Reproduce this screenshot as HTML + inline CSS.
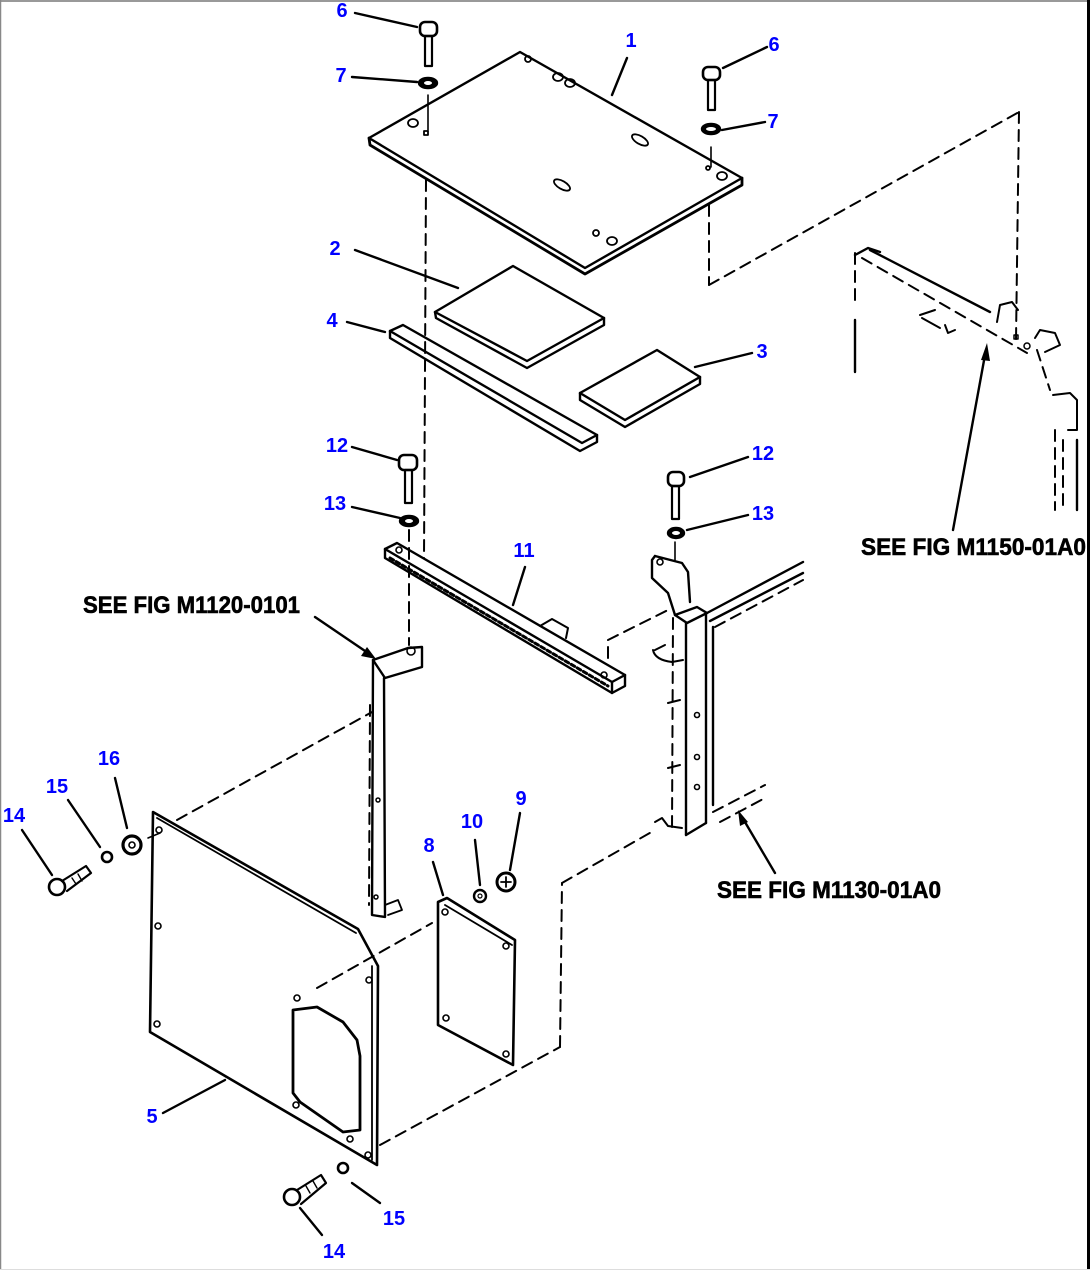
<!DOCTYPE html>
<html><head><meta charset="utf-8"><style>
html,body{margin:0;padding:0;background:#fff;}
svg{display:block;}
.l{font-family:"Liberation Sans",Arial,sans-serif;font-weight:bold;font-size:20px;fill:#0000ff;text-anchor:middle;}
.s{font-family:"Liberation Sans",Arial,sans-serif;font-weight:bold;font-size:24px;fill:#000;stroke:#000;stroke-width:0.6;}
</style></head><body>
<svg width="1090" height="1270" viewBox="0 0 1090 1270" xmlns="http://www.w3.org/2000/svg">
<rect width="1090" height="1270" fill="#fff"/>
<line x1="0" y1="1" x2="1090" y2="1" stroke="#999" stroke-width="2"/>
<line x1="0.5" y1="0" x2="0.5" y2="1270" stroke="#888" stroke-width="1.5"/>
<line x1="1088.5" y1="0" x2="1088.5" y2="1270" stroke="#000" stroke-width="3"/>
<line x1="0" y1="1269.5" x2="1090" y2="1269.5" stroke="#ddd" stroke-width="1"/>

<g fill="none" stroke="#000" stroke-width="2.4" stroke-linejoin="round" stroke-linecap="round">
<!-- dashed assembly lines -->
<g stroke-dasharray="11,7" stroke-width="2">
<line x1="426" y1="180" x2="424" y2="558"/>
<line x1="709" y1="205" x2="709" y2="285"/>
<line x1="709" y1="285" x2="1019" y2="112"/>
<line x1="1019" y1="112" x2="1016" y2="340"/>
<line x1="409" y1="530" x2="409" y2="645"/>
<line x1="608" y1="658" x2="608" y2="640"/>
<line x1="608" y1="640" x2="672" y2="608"/>
<line x1="177" y1="820" x2="372" y2="712"/>
<line x1="317" y1="988" x2="432" y2="923"/>
<line x1="380" y1="1145" x2="560" y2="1047"/>
<line x1="560" y1="1047" x2="562" y2="883"/>
<line x1="562" y1="883" x2="655" y2="830"/>
<line x1="370" y1="705" x2="369" y2="905"/>
<line x1="673" y1="618" x2="672" y2="830"/>
<line x1="855" y1="253" x2="855" y2="300"/>
<line x1="862" y1="258" x2="1027" y2="353"/>
<line x1="1037" y1="350" x2="1050" y2="390"/>
<line x1="1055" y1="430" x2="1055" y2="510"/>
<line x1="1063" y1="440" x2="1063" y2="510"/>
<line x1="715" y1="627" x2="803" y2="580"/>
<line x1="713" y1="812" x2="765" y2="785"/>
<line x1="720" y1="822" x2="765" y2="798"/>
</g>

<!-- Part 1 plate -->
<path d="M369,138 L520,52 L742,178 L585,268 Z"/>
<path d="M369,138 L370,145 L585,274 L742,185 L742,178" stroke-width="2.8"/>
<g stroke-width="1.8">
<circle cx="528" cy="59" r="3"/>
<ellipse cx="558" cy="77" rx="5" ry="4"/>
<ellipse cx="570" cy="83" rx="5" ry="4"/>
<ellipse cx="413" cy="123" rx="5" ry="4"/>
<rect x="424" y="131" width="4" height="4"/>
<ellipse cx="640" cy="140" rx="9" ry="4" transform="rotate(30 640 140)"/>
<ellipse cx="562" cy="185" rx="9" ry="4" transform="rotate(30 562 185)"/>
<ellipse cx="722" cy="176" rx="5" ry="4"/>
<circle cx="708" cy="168" r="2"/>
<circle cx="596" cy="233" r="3"/>
<ellipse cx="612" cy="241" rx="5" ry="4"/>
</g>
<line x1="428" y1="95" x2="428" y2="130" stroke-width="1.6"/>
<line x1="711" y1="147" x2="711" y2="167" stroke-width="1.6"/>

<!-- Bolts 6 and washers 7 -->
<rect x="420" y="22" width="17" height="14" rx="5" stroke-width="2.6"/>
<rect x="425" y="36" width="7" height="30" stroke-width="2.2"/>
<ellipse cx="428" cy="83" rx="9" ry="5" fill="#000"/>
<ellipse cx="428" cy="83" rx="4" ry="2" fill="#fff" stroke="none"/>
<rect x="703" y="67" width="17" height="13" rx="5" stroke-width="2.6"/>
<rect x="708" y="80" width="7" height="30" stroke-width="2.2"/>
<ellipse cx="711" cy="129" rx="9" ry="5" fill="#000"/>
<ellipse cx="711" cy="129" rx="5" ry="2" fill="#fff" stroke="none"/>

<!-- Pad 2 -->
<path d="M435,312 L513,266 L604,318 L527,361 Z"/>
<path d="M435,312 L436,318 L527,368 L604,325 L604,318"/>
<!-- Strip 4 -->
<path d="M390,331 L403,325 L597,435 L582,443 Z"/>
<path d="M390,331 L390,338 L580,451 L597,442 L597,435"/>
<!-- Pad 3 -->
<path d="M580,393 L657,350 L700,377 L625,420 Z"/>
<path d="M580,393 L580,400 L625,427 L700,384 L700,377"/>

<!-- Bolts 12 and washers 13 -->
<rect x="399" y="455" width="18" height="15" rx="5" stroke-width="2.6"/>
<rect x="405" y="470" width="7" height="33" stroke-width="2.2"/>
<ellipse cx="409" cy="521" rx="9" ry="5" fill="#000"/>
<ellipse cx="409" cy="521" rx="4" ry="2" fill="#fff" stroke="none"/>
<rect x="668" y="472" width="16" height="14" rx="5" stroke-width="2.6"/>
<rect x="672" y="486" width="7" height="33" stroke-width="2.2"/>
<ellipse cx="676" cy="533" rx="8" ry="5" fill="#000"/>
<ellipse cx="676" cy="533" rx="4" ry="2" fill="#fff" stroke="none"/>
<line x1="675" y1="542" x2="675" y2="560" stroke-width="1.6"/>

<!-- Part 11 bar -->
<path d="M385,549 L397,543 L625,675 L612,682 Z"/>
<path d="M385,549 L385,558 L612,693 L625,686 L625,675"/>
<path d="M612,682 L612,693"/>
<line x1="390" y1="558" x2="608" y2="686" stroke-dasharray="4,3" stroke-width="3"/>
<path d="M540,626 L552,619 L568,628 L566,638" stroke-width="2"/>
<circle cx="399" cy="550" r="3" stroke-width="1.6"/>
<circle cx="604" cy="675" r="3" stroke-width="1.6"/>

<!-- M1120 bracket -->
<path d="M373,660 L408,648 L422,647 L422,667 L385,678 L373,660 Z"/>
<path d="M373,660 L372,915 L385,917 L384,678"/>
<circle cx="411" cy="651" r="4" stroke-width="1.6"/>
<path d="M385,905 L398,900 L402,910 L388,915" stroke-width="1.8"/>
<circle cx="378" cy="800" r="2" stroke-width="1.5"/>
<circle cx="376" cy="897" r="2" stroke-width="1.5"/>

<!-- Part 5 panel -->
<path d="M153,812 L358,929 L378,966 L377,1165 L150,1032 Z" stroke-width="2.6"/>
<path d="M157,818 L356,933" stroke-width="1.8"/>
<path d="M372,966 L372,1160" stroke-width="1.8"/>
<path d="M293,1010 L317,1007 L343,1022 L357,1040 L360,1056 L360,1130 L343,1132 L300,1102 L293,1093 Z" stroke-width="2.8"/>
<g stroke-width="1.6">
<circle cx="159" cy="830" r="3"/>
<circle cx="158" cy="926" r="3"/>
<circle cx="157" cy="1024" r="3"/>
<circle cx="297" cy="998" r="3"/>
<circle cx="369" cy="980" r="3"/>
<circle cx="350" cy="1139" r="3"/>
<circle cx="368" cy="1155" r="3"/>
<circle cx="296" cy="1105" r="3"/>
</g>
<line x1="148" y1="838" x2="160" y2="833" stroke-width="1.6"/>

<!-- Part 8 panel -->
<path d="M438,902 L447,898 L515,940 L513,1065 L438,1025 Z" stroke-width="2.6"/>
<path d="M445,905 L512,945" stroke-width="1.8"/>
<g stroke-width="1.6">
<circle cx="445" cy="912" r="3"/>
<circle cx="506" cy="946" r="3"/>
<circle cx="446" cy="1018" r="3"/>
<circle cx="506" cy="1054" r="3"/>
</g>
<!-- washer 10, nut 9 -->
<circle cx="480" cy="896" r="6" stroke-width="2.4"/>
<circle cx="480" cy="896" r="2" stroke-width="1.2"/>
<circle cx="506" cy="882" r="9" stroke-width="3"/>
<path d="M501,882 L511,882 M506,877 L506,887" stroke-width="1.8"/>

<!-- left fasteners 14,15,16 -->
<circle cx="132" cy="845" r="9" stroke-width="3.2"/>
<circle cx="132" cy="845" r="3" stroke-width="1.6"/>
<circle cx="107" cy="857" r="5" stroke-width="2.6"/>
<circle cx="57" cy="887" r="8" stroke-width="2.6"/>
<path d="M62,881 L86,866 L91,873 L67,891" stroke-width="2.2"/>
<path d="M72,878 L76,884 M78,874 L82,881" stroke-width="1.4"/>
<!-- bottom fasteners 14,15 -->
<circle cx="343" cy="1168" r="5" stroke-width="2.6"/>
<circle cx="292" cy="1197" r="8" stroke-width="2.6"/>
<path d="M297,1190 L321,1175 L326,1183 L301,1204" stroke-width="2.2"/>
<path d="M306,1186 L310,1193 M313,1181 L317,1188" stroke-width="1.4"/>

<!-- M1130 right frame -->
<path d="M655,556 L682,563 L688,572 L690,602"/>
<path d="M655,556 L652,560 L652,578 L668,593 L675,615"/>
<circle cx="660" cy="562" r="3" stroke-width="1.6"/>
<path d="M675,615 L687,623 L707,613 L697,607 Z"/>
<line x1="686" y1="623" x2="686" y2="835"/>
<line x1="706" y1="613" x2="706" y2="823"/>
<line x1="686" y1="835" x2="706" y2="823"/>
<line x1="713" y1="627" x2="713" y2="805"/>
<line x1="707" y1="613" x2="803" y2="562"/>
<line x1="710" y1="621" x2="803" y2="573"/>
<path d="M655,650 L665,645 M653,650 Q655,660 672,662 L683,660" stroke-width="2"/>
<path d="M668,703 L680,700 M668,768 L680,765" stroke-width="2"/>
<path d="M655,822 L662,818 L668,826 L682,828" stroke-width="2"/>
<g stroke-width="1.6">
<circle cx="697" cy="715" r="2.5"/>
<circle cx="697" cy="757" r="2.5"/>
<circle cx="697" cy="787" r="2.5"/>
</g>

<!-- M1150 bracket -->
<line x1="855" y1="320" x2="855" y2="372"/>
<path d="M855,255 L868,248 L880,252"/>
<line x1="870" y1="250" x2="990" y2="312"/>
<path d="M997,322 L1000,305 L1012,302 L1018,310" stroke-width="2"/>
<path d="M1035,338 L1040,330 L1055,333 L1060,345 L1045,352" stroke-width="2"/>
<path d="M920,315 L935,310 M922,318 L940,328 M945,325 L948,333 L955,330" stroke-width="2"/>
<path d="M1053,395 L1070,393 L1077,400 L1077,430 L1068,430" stroke-width="2"/>
<line x1="1077" y1="440" x2="1077" y2="510"/>
<rect x="1014" y="335" width="4" height="4" stroke-width="1.5"/>
<circle cx="1027" cy="346" r="3" stroke-width="1.5"/>
</g>

<!-- leaders -->
<g stroke="#000" stroke-width="2.4" stroke-linecap="round">
<line x1="355" y1="13" x2="417" y2="27"/>
<line x1="352" y1="77" x2="417" y2="82"/>
<line x1="627" y1="58" x2="612" y2="95"/>
<line x1="767" y1="47" x2="723" y2="68"/>
<line x1="765" y1="122" x2="722" y2="130"/>
<line x1="355" y1="250" x2="458" y2="288"/>
<line x1="347" y1="322" x2="385" y2="332"/>
<line x1="752" y1="353" x2="695" y2="367"/>
<line x1="352" y1="447" x2="397" y2="460"/>
<line x1="352" y1="507" x2="400" y2="518"/>
<line x1="748" y1="457" x2="690" y2="477"/>
<line x1="748" y1="515" x2="687" y2="530"/>
<line x1="525" y1="567" x2="513" y2="605"/>
<line x1="115" y1="778" x2="127" y2="828"/>
<line x1="68" y1="800" x2="100" y2="847"/>
<line x1="22" y1="830" x2="52" y2="875"/>
<line x1="433" y1="862" x2="443" y2="895"/>
<line x1="475" y1="840" x2="480" y2="885"/>
<line x1="520" y1="813" x2="510" y2="870"/>
<line x1="163" y1="1113" x2="225" y2="1080"/>
<line x1="380" y1="1203" x2="352" y2="1183"/>
<line x1="322" y1="1235" x2="300" y2="1208"/>
<!-- arrows -->
<line x1="315" y1="617" x2="368" y2="653"/>
<line x1="953" y1="530" x2="985" y2="355"/>
<line x1="775" y1="873" x2="742" y2="817"/>
</g>
<polygon points="376,659 361,656 367,647" fill="#000"/>
<polygon points="987,343 981,360 990,361" fill="#000"/>
<polygon points="738,810 748,822 740,826" fill="#000"/>

<!-- labels -->
<text class="l" x="342" y="17">6</text>
<text class="l" x="341" y="82">7</text>
<text class="l" x="631" y="47">1</text>
<text class="l" x="774" y="51">6</text>
<text class="l" x="773" y="128">7</text>
<text class="l" x="335" y="255">2</text>
<text class="l" x="332" y="327">4</text>
<text class="l" x="762" y="358">3</text>
<text class="l" x="337" y="452">12</text>
<text class="l" x="335" y="510">13</text>
<text class="l" x="763" y="460">12</text>
<text class="l" x="763" y="520">13</text>
<text class="l" x="524" y="557">11</text>
<text class="l" x="109" y="765">16</text>
<text class="l" x="57" y="793">15</text>
<text class="l" x="14" y="822">14</text>
<text class="l" x="429" y="852">8</text>
<text class="l" x="472" y="828">10</text>
<text class="l" x="521" y="805">9</text>
<text class="l" x="152" y="1123">5</text>
<text class="l" x="394" y="1225">15</text>
<text class="l" x="334" y="1258">14</text>

<text class="s" x="83" y="613" textLength="217" lengthAdjust="spacingAndGlyphs">SEE FIG M1120-0101</text>
<text class="s" x="861" y="555" textLength="225" lengthAdjust="spacingAndGlyphs">SEE FIG M1150-01A0</text>
<text class="s" x="717" y="898" textLength="224" lengthAdjust="spacingAndGlyphs">SEE FIG M1130-01A0</text>
</svg>
</body></html>
